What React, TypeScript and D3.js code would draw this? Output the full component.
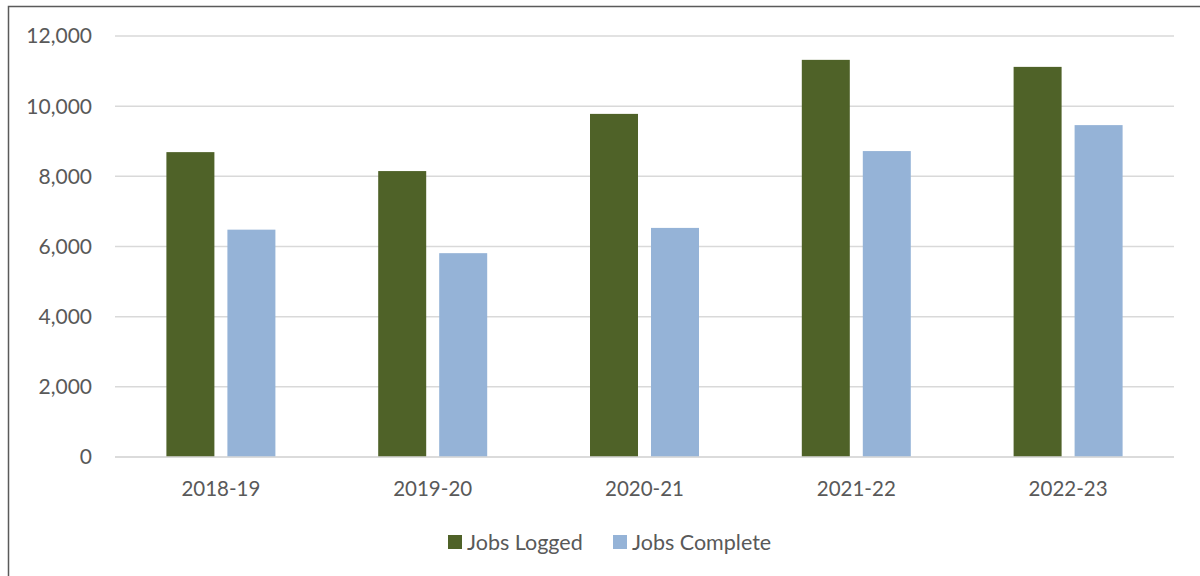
import React from "react";
import * as d3 from "d3";

const categories = ["2018-19", "2019-20", "2020-21", "2021-22", "2022-23"];
const seriesNames = ["Jobs Logged", "Jobs Complete"];
const jobsLogged = [8690, 8150, 9780, 11320, 11120];
const jobsComplete = [6480, 5810, 6530, 8720, 9460];
const yTicks = [0, 2000, 4000, 6000, 8000, 10000, 12000];
const colors = ["#4f6228", "#95b3d7"];

const W = 1200, H = 576;
const left = 115, right = 1174, top = 36, bottom = 457;
const FONT = "Lato, 'Open Sans', sans-serif";
const TXT = "#595959";

export default function App() {
  const x = d3.scaleBand<string>().domain(categories).range([left, right]).padding(0);
  const y = d3.scaleLinear().domain([0, 12000]).range([bottom, top]);
  const fmt = d3.format(",");
  const barW = 48, gap = 13;
  const series = [jobsLogged, jobsComplete];
  return (
    <svg width={W} height={H} style={{ position: "absolute", left: 0, top: 0, background: "#fff" }}>
      <rect x={0} y={0} width={W} height={H} fill="#fff" />
      <rect x={8.5} y={6.5} width={1300} height={700} fill="none" stroke="#5a5a5a" strokeWidth={1.5} />
      {yTicks.map((t) => (
        <g key={t}>
          <line x1={left} x2={right} y1={y(t)} y2={y(t)} stroke="#d9d9d9" strokeWidth={1.5} />
          <text x={92} y={y(t)} dy="0.35em" textAnchor="end" fontFamily={FONT} fontSize={21} fill={TXT}>
            {fmt(t)}
          </text>
        </g>
      ))}
      {categories.map((c, i) => {
        const cx = (x(c) as number) + x.bandwidth() / 2;
        return (
          <g key={c}>
            {series.map((s, si) => {
              const bx = si === 0 ? cx - gap / 2 - barW : cx + gap / 2;
              return (
                <rect key={si} x={bx} y={y(s[i])} width={barW} height={bottom - y(s[i])} fill={colors[si]} />
              );
            })}
            <text x={cx} y={496} textAnchor="middle" fontFamily={FONT} fontSize={20.5} fill={TXT}>
              {c}
            </text>
          </g>
        );
      })}
      <line x1={left} x2={right} y1={bottom} y2={bottom} stroke="#d9d9d9" strokeWidth={1.5} />
      {seriesNames.map((n, i) => {
        const lx = i === 0 ? 448 : 613;
        return (
          <g key={n}>
            <rect x={lx} y={535} width={14} height={14} fill={colors[i]} />
            <text x={lx + 19} y={542} dy="0.35em" fontFamily={FONT} fontSize={21.5} fill={TXT}>
              {n}
            </text>
          </g>
        );
      })}
    </svg>
  );
}
